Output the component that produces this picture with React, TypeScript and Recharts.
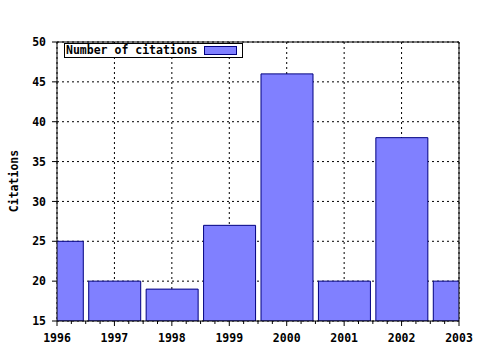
import React from 'react';
import { BarChart, Bar, XAxis, YAxis, CartesianGrid, Legend } from 'recharts';

const years = [1996, 1997, 1998, 1999, 2000, 2001, 2002, 2003];
const citations = [25, 20, 19, 27, 46, 20, 38, 20];
const yTicks = [15, 20, 25, 30, 35, 40, 45, 50];
const seriesName = 'Number of citations';
const axisTitle = 'Citations';

const minorTicks = years
  .flatMap((y) => [y, y + 0.25, y + 0.5, y + 0.75])
  .filter((v) => v <= 2003);

const data = years.map((year, i) => ({ year, citations: citations[i] }));

const FONT = '"DejaVu Sans Mono", monospace';
const FILL = '#8080ff';
const EDGE = '#000080';

const BottomTick = (props: any) => {
  const { x, y, payload } = props;
  const v = payload.value;
  const major = Number.isInteger(v);
  return (
    <g>
      <line x1={x} x2={x} y1={y} y2={y + (major ? 5 : 3)} stroke="#000" />
      {major && (
        <text
          x={x}
          y={y + 21}
          textAnchor="middle"
          fontFamily={FONT}
          fontWeight="bold"
          fontSize={11.5}
          fill="#000"
        >
          {v}
        </text>
      )}
    </g>
  );
};

const LegendBox = () => (
  <div
    style={{
      border: '1px solid #000',
      background: '#fff',
      width: 176,
      height: 13,
      display: 'flex',
      alignItems: 'center',
      fontFamily: FONT,
      fontSize: 11.5,
      fontWeight: 'bold',
      lineHeight: '13px',
      paddingLeft: 1,
      boxSizing: 'content-box',
    }}
  >
    <span style={{ width: 138 }}>{seriesName}</span>
    <span
      style={{
        display: 'inline-block',
        width: 31,
        height: 7,
        background: FILL,
        border: `1px solid ${EDGE}`,
      }}
    />
  </div>
);

const YTitle = () => (
  <text
    x={18}
    y={181}
    transform="rotate(-90 18 181)"
    textAnchor="middle"
    fontFamily={FONT}
    fontWeight="bold"
    fontSize={11.5}
    fill="#000"
  >
    {axisTitle}
  </text>
);

export default function App() {
  return (
    <div style={{ position: 'absolute', left: 0, top: 0, background: '#fff' }}>
      <BarChart
        width={480}
        height={350}
        data={data}
        margin={{ top: 32, right: 20, bottom: 0, left: 0 }}
      >
        <CartesianGrid
          xAxisId="grid"
          yAxisId={0}
          stroke="#000"
          strokeDasharray="2 3"
        />
        <Bar
          dataKey="citations"
          name={seriesName}
          fill={FILL}
          stroke={EDGE}
          strokeWidth={1}
          barSize={52}
          isAnimationActive={false}
        />
        <XAxis
          xAxisId="grid"
          dataKey="year"
          type="number"
          domain={[1996, 2003]}
          ticks={years}
          hide
        />
        <XAxis
          xAxisId={0}
          dataKey="year"
          type="number"
          domain={[1996, 2003]}
          allowDataOverflow
          ticks={minorTicks}
          interval={0}
          height={29}
          tickSize={0}
          tickMargin={0}
          tickLine={false}
          tick={<BottomTick />}
          axisLine={{ stroke: '#000' }}
        />
        <XAxis
          xAxisId="top"
          orientation="top"
          dataKey="year"
          type="number"
          domain={[1996, 2003]}
          ticks={minorTicks}
          interval={0}
          height={10}
          tickSize={3}
          tick={false}
          tickLine={{ stroke: '#000' }}
          axisLine={{ stroke: '#000' }}
        />
        <YAxis
          yAxisId={0}
          type="number"
          domain={[15, 50]}
          allowDataOverflow
          ticks={yTicks}
          interval={0}
          width={57}
          tickSize={5}
          tickMargin={6}
          tickLine={{ stroke: '#000' }}
          axisLine={{ stroke: '#000' }}
          tick={{ fill: '#000', fontFamily: FONT, fontWeight: 'bold', fontSize: 11.5 }}
          label={{ content: () => <YTitle /> }}
        />
        <YAxis
          yAxisId="right"
          orientation="right"
          type="number"
          domain={[15, 50]}
          width={1}
          tick={false}
          tickLine={false}
          axisLine={{ stroke: '#000' }}
        />
        <Legend
          layout="horizontal"
          verticalAlign="middle"
          align="center"
          wrapperStyle={{ position: 'absolute', top: 43, left: 64, width: 'auto', height: 'auto' }}
          content={() => <LegendBox />}
        />
      </BarChart>
    </div>
  );
}
